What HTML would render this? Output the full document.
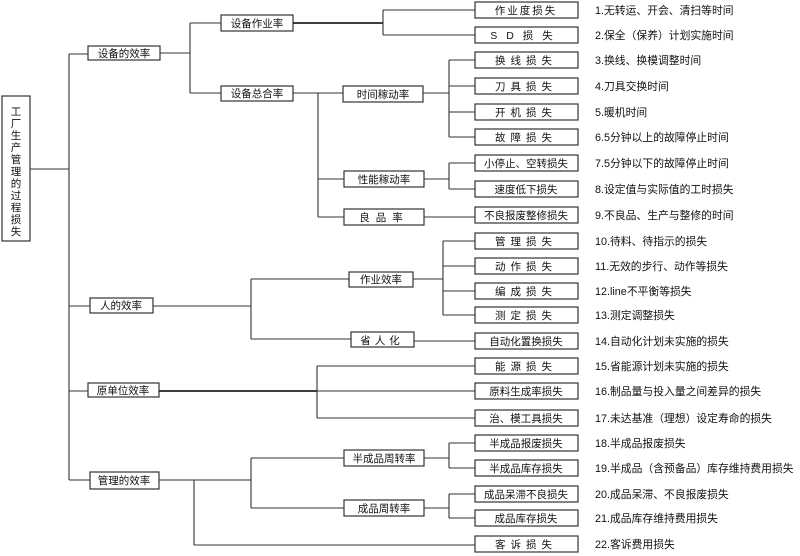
<!DOCTYPE html>
<html><head><meta charset="utf-8"><style>
html,body{margin:0;padding:0;background:#fff;}
svg{display:block;}
text{font-family:"Liberation Sans","Noto Sans CJK SC",sans-serif;font-size:10.5px;fill:#111;}
.d text{font-size:10.8px;}
.b{fill:#fff;stroke:#333;stroke-width:1.2;}
.l{stroke:#333;stroke-width:1.1;fill:none;}
.t{stroke:#222;stroke-width:1.8;fill:none;}
</style></head><body>
<svg width="800" height="556" viewBox="0 0 800 556" xmlns="http://www.w3.org/2000/svg">
<rect class="b" x="2" y="96" width="28" height="145"/>
<g text-anchor="middle">
<text x="16" y="115">工</text><text x="16" y="127">厂</text><text x="16" y="139">生</text><text x="16" y="151">产</text><text x="16" y="163">管</text><text x="16" y="175">理</text><text x="16" y="187">的</text><text x="16" y="199">过</text><text x="16" y="211">程</text><text x="16" y="223">损</text><text x="16" y="235">失</text>
</g>
<path class="l" d="M30 169H69 M69 54V480 M69 54H88 M69 306H90 M69 391H88 M69 480H90"/>
<rect class="b" x="88" y="46" width="72" height="14"/><text x="124" y="57" text-anchor="middle">设备的效率</text>
<rect class="b" x="90" y="298" width="63" height="15"/><text x="121" y="309" text-anchor="middle">人的效率</text>
<rect class="b" x="88" y="383" width="71" height="14"/><text x="123" y="394" text-anchor="middle">原单位效率</text>
<rect class="b" x="90" y="472" width="69" height="17"/><text x="124" y="484" text-anchor="middle">管理的效率</text>
<path class="l" d="M160 53H190 M190 23V93 M190 23H221 M190 93H221"/>
<rect class="b" x="221" y="15" width="72" height="16"/><text x="257" y="27" text-anchor="middle">设备作业率</text>
<rect class="b" x="221" y="86" width="72" height="15"/><text x="257" y="97" text-anchor="middle">设备总合率</text>
<path class="t" d="M293 23H383"/>
<path class="l" d="M383 10V35 M383 10H475 M383 35H475"/>
<path class="l" d="M293 93H343 M318 93V217 M318 179H344 M318 217H344"/>
<rect class="b" x="343" y="86" width="80" height="16"/><text x="383" y="98" text-anchor="middle">时间稼动率</text>
<rect class="b" x="344" y="171" width="80" height="16"/><text x="384" y="183" text-anchor="middle">性能稼动率</text>
<rect class="b" x="344" y="209" width="80" height="16"/><text x="384" y="221" text-anchor="middle" letter-spacing="6">良品率</text>
<path class="l" d="M423 93H449 M449 60V137 M449 60H475 M449 86H475 M449 112H475 M449 137H475"/>
<path class="l" d="M424 179H449 M449 163V189 M449 163H475 M449 189H475"/>
<path class="l" d="M424 217H475"/>
<path class="l" d="M153 306H251 M251 279V339 M251 279H349 M251 339H351"/>
<rect class="b" x="349" y="272" width="64" height="15"/><text x="381" y="283" text-anchor="middle">作业效率</text>
<rect class="b" x="351" y="332" width="63" height="15"/><text x="382" y="344" text-anchor="middle" letter-spacing="4">省人化</text>
<path class="l" d="M413 279H443 M443 241V315 M443 241H475 M443 266H475 M443 291H475 M443 315H475"/>
<path class="l" d="M414 341H475"/>
<path class="t" d="M159 391H317"/>
<path class="l" d="M317 391H475 M317 366V418 M317 366H475 M317 418H475"/>
<path class="l" d="M159 480H251 M251 458V508 M251 458H344 M251 508H344 M194 480V545 M194 545H475"/>
<rect class="b" x="344" y="450" width="80" height="16"/><text x="384" y="462" text-anchor="middle">半成品周转率</text>
<rect class="b" x="344" y="500" width="80" height="16"/><text x="384" y="512" text-anchor="middle">成品周转率</text>
<path class="l" d="M424 458H449 M449 443V468 M449 443H475 M449 468H475"/>
<path class="l" d="M424 508H449 M449 494V518 M449 494H475 M449 518H475"/>
<g>
<rect class="b" x="475" y="2" width="103" height="16"/>
<rect class="b" x="475" y="27" width="103" height="16"/>
<rect class="b" x="475" y="52" width="103" height="16"/>
<rect class="b" x="475" y="78" width="103" height="16"/>
<rect class="b" x="475" y="104" width="103" height="16"/>
<rect class="b" x="475" y="129" width="103" height="16"/>
<rect class="b" x="475" y="155" width="103" height="16"/>
<rect class="b" x="475" y="181" width="103" height="16"/>
<rect class="b" x="475" y="207" width="103" height="16"/>
<rect class="b" x="475" y="233" width="103" height="16"/>
<rect class="b" x="475" y="258" width="103" height="16"/>
<rect class="b" x="475" y="283" width="103" height="16"/>
<rect class="b" x="475" y="307" width="103" height="16"/>
<rect class="b" x="475" y="333" width="103" height="16"/>
<rect class="b" x="475" y="358" width="103" height="16"/>
<rect class="b" x="475" y="383" width="103" height="16"/>
<rect class="b" x="475" y="410" width="103" height="16"/>
<rect class="b" x="475" y="435" width="103" height="16"/>
<rect class="b" x="475" y="460" width="103" height="16"/>
<rect class="b" x="475" y="486" width="103" height="16"/>
<rect class="b" x="475" y="510" width="103" height="16"/>
<rect class="b" x="475" y="536" width="103" height="16"/>
</g>
<g text-anchor="middle">
<text x="526" y="14" letter-spacing="2">作业度损失</text>
<text x="526" y="39" letter-spacing="9">SD损失</text>
<text x="526" y="64" letter-spacing="5">换线损失</text>
<text x="526" y="90" letter-spacing="5">刀具损失</text>
<text x="526" y="116" letter-spacing="5">开机损失</text>
<text x="526" y="141" letter-spacing="5">故障损失</text>
<text x="526" y="167">小停止、空转损失</text>
<text x="526" y="193">速度低下损失</text>
<text x="526" y="219">不良报废整修损失</text>
<text x="526" y="245" letter-spacing="5">管理损失</text>
<text x="526" y="270" letter-spacing="5">动作损失</text>
<text x="526" y="295" letter-spacing="5">编成损失</text>
<text x="526" y="319" letter-spacing="5">测定损失</text>
<text x="526" y="345">自动化置换损失</text>
<text x="526" y="370" letter-spacing="5">能源损失</text>
<text x="526" y="395">原料生成率损失</text>
<text x="526" y="422">治、模工具损失</text>
<text x="526" y="447">半成品报废损失</text>
<text x="526" y="472">半成品库存损失</text>
<text x="526" y="498">成品呆滞不良损失</text>
<text x="526" y="522">成品库存损失</text>
<text x="526" y="548" letter-spacing="5">客诉损失</text>
</g>
<g class="d">
<text x="595" y="14">1.无转运、开会、清扫等时间</text>
<text x="595" y="39">2.保全（保养）计划实施时间</text>
<text x="595" y="64">3.换线、换模调整时间</text>
<text x="595" y="90">4.刀具交换时间</text>
<text x="595" y="116">5.暖机时间</text>
<text x="595" y="141">6.5分钟以上的故障停止时间</text>
<text x="595" y="167">7.5分钟以下的故障停止时间</text>
<text x="595" y="193">8.设定值与实际值的工时损失</text>
<text x="595" y="219">9.不良品、生产与整修的时间</text>
<text x="595" y="245">10.待料、待指示的损失</text>
<text x="595" y="270">11.无效的步行、动作等损失</text>
<text x="595" y="295">12.line不平衡等损失</text>
<text x="595" y="319">13.测定调整损失</text>
<text x="595" y="345">14.自动化计划未实施的损失</text>
<text x="595" y="370">15.省能源计划未实施的损失</text>
<text x="595" y="395">16.制品量与投入量之间差异的损失</text>
<text x="595" y="422">17.未达基准（理想）设定寿命的损失</text>
<text x="595" y="447">18.半成品报废损失</text>
<text x="595" y="472">19.半成品（含预备品）库存维持费用损失</text>
<text x="595" y="498">20.成品呆滞、不良报废损失</text>
<text x="595" y="522">21.成品库存维持费用损失</text>
<text x="595" y="548">22.客诉费用损失</text>
</g>
</svg>
</body></html>
